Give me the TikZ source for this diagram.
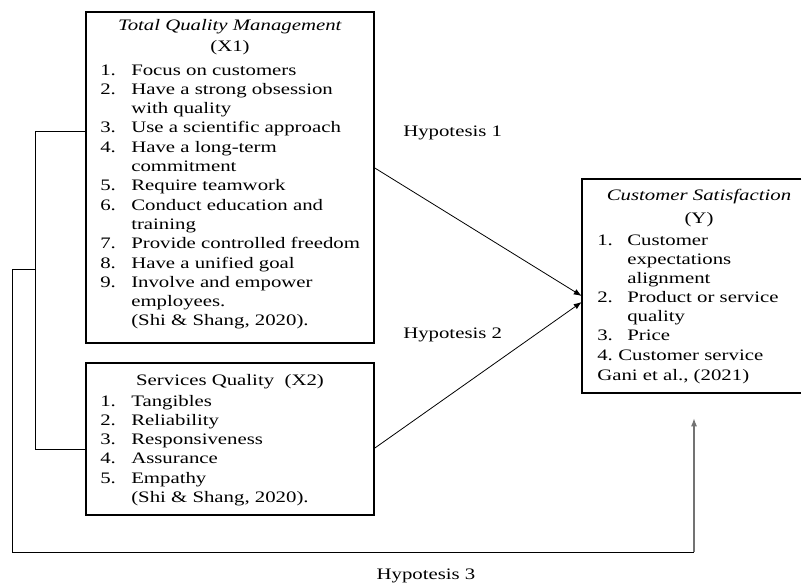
\documentclass[tikz,border=0pt]{standalone}
\usepackage{fontspec}
\setmainfont[FakeStretch=1.3]{Liberation Serif}
\usetikzlibrary{arrows.meta}
\newcommand\numbox[2][23.25pt]{\makebox[#1][l]{#2}}
\begin{document}
\begin{tikzpicture}[x=0.75pt,y=-0.75pt,
  box/.style={draw, line width=1.3pt, inner sep=0pt},
  txt/.style={inner sep=0pt, anchor=base west, font=\fontsize{12}{14}\selectfont},
  ctr/.style={txt, anchor=base},
  conn/.style={line width=0.6pt},
  arr/.style={conn, -{Latex[length=6pt,width=4.5pt]}}]
\useasboundingbox (0,0) rectangle (803,585);
% boxes
\node[box, minimum width=216pt, minimum height=248.25pt] (x1) at (230,177.5) {};
\node[box, minimum width=216pt, minimum height=114pt] (x2) at (230,439) {};
\node[inner sep=0pt, minimum width=164.25pt, minimum height=160.5pt] (yb) at (691.5,286) {};
\draw[line width=1.3pt] (yb.north east) -- (yb.north west) -- (yb.south west) -- (yb.south east);
% X1 text
\node[ctr] (t1) at (230,31) {\textit{Total Quality Management}};
\node[ctr] (t1b) at (230,52) {(X1)};
\foreach [count=\i] \n/\t in {1./Focus on customers,2./Have a strong obsession,/with quality,3./Use a scientific approach,4./Have a long-term,/commitment,5./Require teamwork,6./Conduct education and,/training,7./Provide controlled freedom,8./Have a unified goal,9./Involve and empower,/employees.,/{(Shi \& Shang, 2020).}}
  \node[txt] (a\i) at (100,{75+(\i-1)*19.3}) {\numbox{\n}\t};
% X2 text
\node[ctr] (t2) at (230,385) {Services Quality\ \ (X2)};
\foreach [count=\i] \n/\t in {1./Tangibles,2./Reliability,3./Responsiveness,4./Assurance,5./Empathy,/{(Shi \& Shang, 2020).}}
  \node[txt] (b\i) at (100,{406+(\i-1)*19.3}) {\numbox{\n}\t};
% Y text
\node[ctr] (t3) at (699,200) {\textit{Customer Satisfaction}};
\node[ctr] (t3b) at (699,223) {(Y)};
\foreach [count=\i] \n/\t in {1./Customer,/expectations,/alignment,2./Product or service,/quality,3./Price}
  \node[txt] (c\i) at (597,{245+(\i-1)*19.1}) {\numbox[22.5pt]{\n}\t};
\node[txt] (c7) at (597,360) {\numbox[15.75pt]{4.}Customer service};
\node[txt] (c8) at (597,380) {Gani et al., (2021)};
% hypothesis labels
\node[txt] (h1) at (403,137) {Hypotesis 1};
\node[txt] (h2) at (403,338) {Hypotesis 2};
\node[ctr] (h3) at (426,579) {Hypotesis 3};
% connectors
\draw[arr] ([yshift=7.1pt]x1.east) -- ([yshift=-7.5pt]yb.west);
\draw[arr] ([yshift=-6.75pt]x2.east) -- ([yshift=-12pt]yb.west);
\draw[conn] ([yshift=34.9pt]x1.west) -- ++(-37.5pt,0) coordinate (bt) |- ([yshift=-7.5pt]x2.west);
\coordinate (br) at (36,269);
\coordinate (hc) at (694,552);
\coordinate (he) at ([yshift=-18.75pt]yb.south -| hc);
\draw[conn] (br) -- (12,269) |- (hc);
\draw[arr, draw=black!55, fill=black, line width=0.9pt] (hc) -- (he);
\end{tikzpicture}
\end{document}
